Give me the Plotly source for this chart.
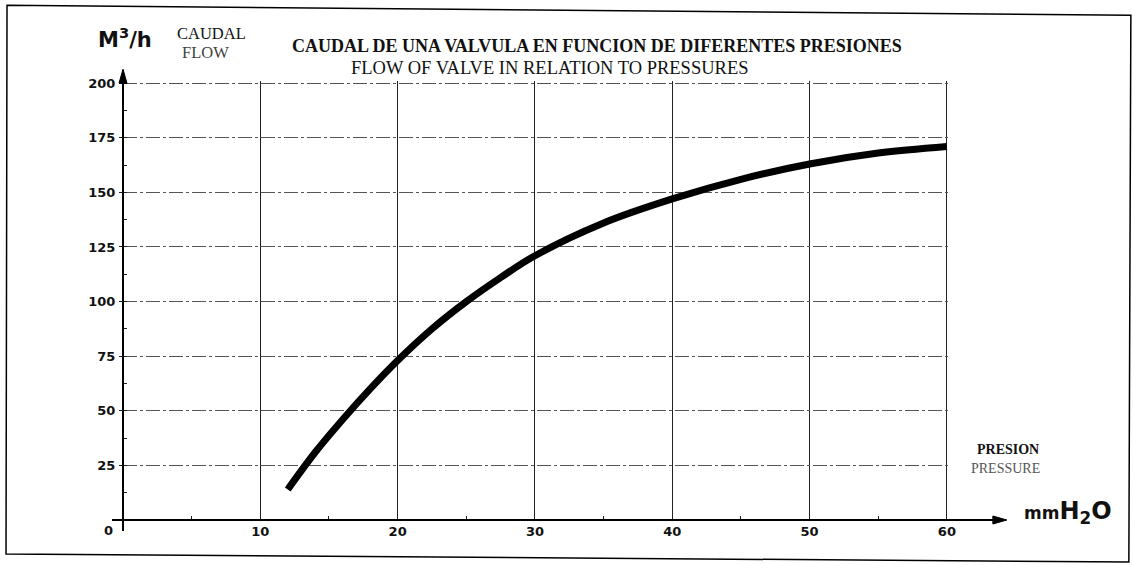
import plotly.graph_objects as go

# ---- data ----
pressure_mm = [12, 14, 16, 18, 20, 22.5, 25, 27.5, 30, 35, 40, 45, 50, 55, 60]
flow_m3h = [14, 31, 46, 60, 73, 87.5, 100, 111, 121, 136, 147, 156, 163, 168, 171]
x_ticks = [10, 20, 30, 40, 50, 60]
y_ticks = [25, 50, 75, 100, 125, 150, 175, 200]

W, H = 1133, 565
X_RANGE = [0, 60.3]
Y_RANGE = [0, 201]
# pixel position of x=0 / x=60 and y=0 / y=200 in the reference
PX0, PX60, PY0, PY200 = 123, 947, 520, 83
sx = (PX60 - PX0) / 60.0
sy = (PY0 - PY200) / 200.0
L = PX0
R = PX0 + X_RANGE[1] * sx
B = PY0
T = PY0 - Y_RANGE[1] * sy


def xp(px):
    return (px - L) / (R - L)


def yp(py):
    return (B - py) / (B - T)


fig = go.Figure()
fig.add_trace(go.Scatter(
    x=pressure_mm, y=flow_m3h, mode="lines",
    line=dict(color="black", width=7, shape="spline", smoothing=1),
    hoverinfo="skip", showlegend=False,
))

tickfont = dict(family="DejaVu Sans", size=13, color="#111", weight="bold")

fig.update_layout(
    width=W, height=H,
    margin=dict(l=L, r=W - R, t=T, b=H - B),
    paper_bgcolor="white", plot_bgcolor="white",
    xaxis=dict(
        range=X_RANGE, tickvals=x_ticks, showline=False, zeroline=False,
        showgrid=True, gridcolor="#222", gridwidth=1,
        ticks="", tickfont=tickfont, ticklabelstandoff=2,
        minor=dict(dtick=5, tick0=5, ticks="inside", ticklen=4, tickcolor="#222", showgrid=False),
    ),
    yaxis=dict(
        range=Y_RANGE, tickvals=y_ticks, showline=False, zeroline=False,
        showgrid=True, gridcolor="#555", gridwidth=1, griddash="14px,3px,3px,3px",
        ticks="outside", ticklen=3, tickcolor="#222", tickfont=tickfont, ticklabelstandoff=1,
        minor=dict(dtick=12.5, tick0=12.5, ticks="inside", ticklen=4, tickcolor="#222", showgrid=False),
    ),
)


def ppath(pts, closed=True):
    s = "M " + " L ".join(f"{xp(a):.5f},{yp(b):.5f}" for a, b in pts)
    return s + (" Z" if closed else "")


# axis lines with arrow heads
fig.add_shape(type="line", xref="paper", yref="paper", x0=xp(112), x1=xp(998),
              y0=yp(PY0), y1=yp(PY0), line=dict(color="black", width=2))
fig.add_shape(type="line", xref="paper", yref="paper", x0=xp(PX0), x1=xp(PX0),
              y0=yp(531), y1=yp(80), line=dict(color="black", width=2))
fig.add_shape(type="path", xref="paper", yref="paper",
              path=ppath([(1007, PY0), (993, PY0 - 4), (993, PY0 + 4)]),
              line=dict(color="black", width=1), fillcolor="black")
fig.add_shape(type="path", xref="paper", yref="paper",
              path=ppath([(PX0, 69), (PX0 - 4, 83), (PX0 + 4, 83)]),
              line=dict(color="black", width=1), fillcolor="black")

# outer border (slightly skewed like the scanned sheet)
fig.add_shape(type="path", xref="paper", yref="paper",
              path=ppath([(7, 5), (1131, 15), (1129, 562), (6, 554)]),
              line=dict(color="black", width=1.5), fillcolor="rgba(0,0,0,0)")

serif = "Liberation Serif"


def txt(text, cx, cy, size, family=serif, color="#111", weight="normal"):
    fig.add_annotation(x=xp(cx), y=yp(cy), xref="paper", yref="paper", text=text,
                       showarrow=False, xanchor="center", yanchor="middle",
                       font=dict(family=family, size=size, color=color, weight=weight))


txt("0", 108, 531, 13, family="DejaVu Sans", weight="bold")
txt("M<sup>3</sup>/h", 125, 38, 21, family="DejaVu Sans", weight="bold")
txt("CAUDAL", 212, 33, 16.5)
txt("FLOW", 206, 52, 16.5, color="#444")
txt("<b>CAUDAL DE UNA VALVULA EN FUNCION DE DIFERENTES PRESIONES</b>", 597, 46, 18)
txt("FLOW OF VALVE IN RELATION TO PRESSURES", 550, 68, 18.5)
txt("<b>PRESION</b>", 1008, 449, 14)
txt("PRESSURE", 1006, 468, 14, color="#555")
txt("mm<span style='font-size:24px'>H<sub>2</sub>O</span>", 1068, 512, 17,
    family="DejaVu Sans", weight="bold")

fig.write_html("out.html", config={"displayModeBar": False},
               post_script="document.body.style.margin='0';")
